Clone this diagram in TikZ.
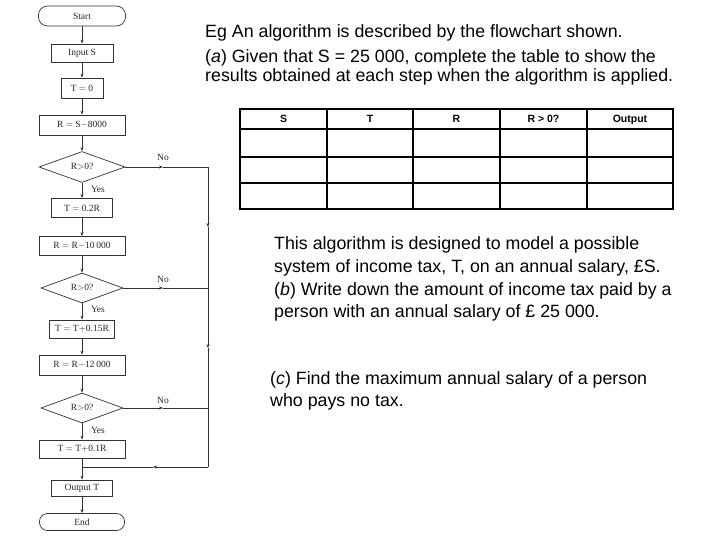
\documentclass[tikz,border=0pt]{standalone}
\usepackage{fontspec}
\setmainfont{Liberation Sans}
\newfontfamily\fcserif{Liberation Serif}
\usetikzlibrary{shapes.geometric,arrows.meta}
\begin{document}
\begin{tikzpicture}[x=1pt,y=-1pt,
  fl/.style={draw=black!80,line width=0.7pt,font=\fcserif\fontsize{9.5}{11}\selectfont,text=black!85,inner sep=0pt},
  boxx/.style={fl,rectangle},
  term/.style={fl,rectangle,rounded corners=9pt},
  dec/.style={fl,diamond,aspect=2.8},
  conn/.style={draw=black!80,line width=0.7pt},
  arr/.style={conn,-{Stealth[length=4pt,width=3pt]}},
  lbl/.style={font=\fcserif\fontsize{9.5}{11}\selectfont,text=black!85,inner sep=0pt},
  ln/.style={anchor=base west,inner sep=0pt,font=\fontsize{17.8}{21}\selectfont},
  tab/.style={line width=1.6pt,draw=black},
  th/.style={font=\fontsize{10.5}{12}\selectfont\bfseries,inner sep=0pt,anchor=base}]
\useasboundingbox (0,0) rectangle (720,540);
% flowchart nodes
\node[term,minimum width=87pt,minimum height=20pt] (start) at (82,16) {Start};
\node[boxx,minimum width=62pt,minimum height=18pt] (inp) at (82,53) {Input S};
\node[boxx,minimum width=42pt,minimum height=20pt] (t0) at (82,88) {T $=$ 0};
\node[boxx,minimum width=86pt,minimum height=20pt] (r1) at (82,125) {R $=$ S$-$8000};
\node[dec,minimum width=86pt,minimum height=31pt] (d1) at (82,167) {R$>$0?};
\node[boxx,minimum width=61pt,minimum height=19pt] (t1) at (82,208) {T $=$ 0.2R};
\node[boxx,minimum width=86pt,minimum height=19pt] (r2) at (82,246) {R $=$ R$-$10\,000};
\node[dec,minimum width=82pt,minimum height=30pt] (d2) at (82,288) {R$>$0?};
\node[boxx,minimum width=65pt,minimum height=18pt] (t2) at (82,329) {T $=$ T$+$0.15R};
\node[boxx,minimum width=86pt,minimum height=20pt] (r3) at (82,365) {R $=$ R$-$12\,000};
\node[dec,minimum width=82pt,minimum height=30pt] (d3) at (82,408) {R$>$0?};
\node[boxx,minimum width=86pt,minimum height=18pt] (t3) at (82,449) {T $=$ T$+$0.1R};
\node[boxx,minimum width=61pt,minimum height=16pt] (out) at (82,488) {Output T};
\node[term,minimum width=85pt,minimum height=17pt,rounded corners=8pt] (end) at (82,522) {End};
% side path coordinates
\coordinate (s1) at (208,167);
\coordinate (s2) at (208,288);
\coordinate (s3) at (208,408);
\coordinate (s4) at (208,467);
\coordinate (j) at (82,467);
\coordinate (m1) at (163,167);
\coordinate (m2) at (163,288);
\coordinate (m3) at (163,408);
\coordinate (v1) at (208,227);
\coordinate (v2) at (208,348);
\coordinate (h1) at (153,467);
% main connectors
\draw[arr] (start) -- (inp);
\draw[arr] (inp) -- (t0);
\draw[arr] (t0) -- (r1);
\draw[arr] (r1) -- (d1);
\draw[arr] (d1) -- (t1);
\draw[arr] (t1) -- (r2);
\draw[arr] (r2) -- (d2);
\draw[arr] (d2) -- (t2);
\draw[arr] (t2) -- (r3);
\draw[arr] (r3) -- (d3);
\draw[arr] (d3) -- (t3);
\draw[arr] (t3) -- (out);
\draw[arr] (out) -- (end);
% No branches
\draw[arr] (d1.east) -- (m1);
\draw[conn] (m1) -- (s1);
\draw[arr] (d2.east) -- (m2);
\draw[conn] (m2) -- (s2);
\draw[arr] (d3.east) -- (m3);
\draw[conn] (m3) -- (s3);
\draw[arr] (s1) -- (v1);
\draw[arr] (v1) -- (v2);
\draw[conn] (v2) -- (s4);
\draw[arr] (s4) -- (h1);
\draw[conn] (h1) -- (j);
% labels
\node[lbl] (no1) at (163,157) {No};
\node[lbl] (no2) at (163,279) {No};
\node[lbl] (no3) at (163,400) {No};
\node[lbl] (y1) at (98,189) {Yes};
\node[lbl] (y2) at (98,309) {Yes};
\node[lbl] (y3) at (98,430) {Yes};
% text
\node[ln] (pa1) at (205,38) {Eg An algorithm is described by the flowchart shown.};
\node[ln] (pa2) at (205,63) {(\textit{a}) Given that S = 25 000, complete the table to show the};
\node[ln] (pa3) at (205,82) {results obtained at each step when the algorithm is applied.};
\node[ln] (pb1) at (274,249) {This algorithm is designed to model a possible};
\node[ln] (pb2) at (274,272) {system of income tax, T, on an annual salary, £S.};
\node[ln] (pb3) at (274,295) {(\textit{b}) Write down the amount of income tax paid by a};
\node[ln] (pb4) at (274,317.5) {person with an annual salary of £ 25 000.};
\node[ln] (pc1) at (270,384) {(\textit{c}) Find the maximum annual salary of a person};
\node[ln] (pc2) at (270,406) {who pays no tax.};
% table
\draw[tab] (240,109) rectangle (673,209);
\foreach \yy in {129,157,183} \draw[tab] (240,\yy) -- (673,\yy);
\foreach \xx in {327,413,500,587} \draw[tab] (\xx,109) -- (\xx,209);
\node[th] (h1t) at (283.5,123) {S};
\node[th] (h2t) at (370,123) {T};
\node[th] (h3t) at (456.5,123) {R};
\node[th] (h4t) at (543.5,123) {R > 0?};
\node[th] (h5t) at (630,123) {Output};
\end{tikzpicture}
\end{document}
